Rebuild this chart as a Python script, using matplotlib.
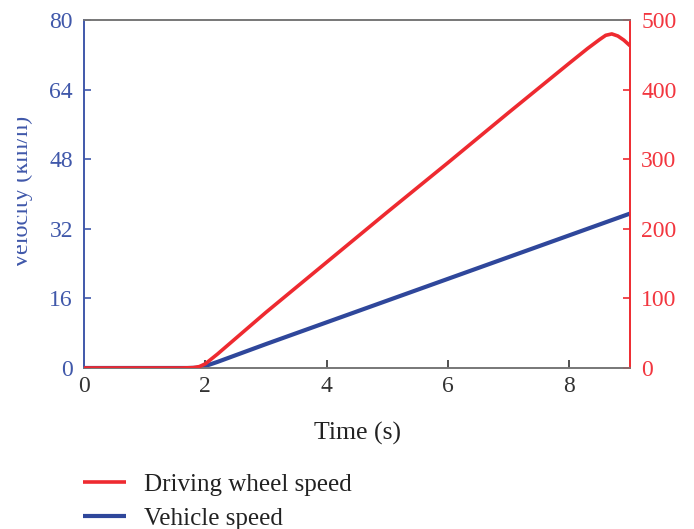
import matplotlib
matplotlib.use("Agg")
import matplotlib.pyplot as plt
from matplotlib.patches import Rectangle

# ---- data ----
time_red = [0, 1.0, 1.6, 1.8, 1.9, 2.0, 2.2, 3, 4, 5, 6, 7, 8, 8.3, 8.5, 8.6, 8.7, 8.8, 8.9, 9.0]
driving_wheel_speed = [0, 0, 0, 0.5, 2, 6, 20, 80, 152, 224, 295, 367, 438, 459, 472, 478, 480, 477, 471, 463]

time_blue = [0, 1.0, 1.7, 1.85, 1.95, 2.0, 2.2, 3, 4, 5, 6, 7, 8, 9.0]
vehicle_speed = [0, 0, 0, 0.05, 0.25, 0.45, 1.4, 5.5, 10.5, 15.5, 20.5, 25.5, 30.5, 35.5]

x_ticks = [0, 2, 4, 6, 8]
left_ticks = [0, 16, 32, 48, 64, 80]
right_ticks = [0, 100, 200, 300, 400, 500]

RED = "#EE2A30"
BLUE = "#2F479B"
BLUE_TXT = "#4058AA"
RED_TXT = "#F2363F"
GRAY = "#777777"

plt.rcParams['font.family'] = ['Liberation Serif', 'DejaVu Serif']

fig = plt.figure(figsize=(6.94, 5.29), dpi=100)
ax = fig.add_axes([84/694, 1-368/529, (630-84)/694, (368-20)/529])
ax2 = ax.twinx()

lb, = ax.plot(time_blue, vehicle_speed, color=BLUE, lw=3.0, solid_capstyle='butt', zorder=2)
lr, = ax2.plot(time_red, driving_wheel_speed, color=RED, lw=2.6, solid_capstyle='butt', zorder=3)

ax.set_xlim(0, 9)
ax.set_ylim(0, 80)
ax2.set_ylim(0, 500)
ax.set_xticks(x_ticks)
ax.set_yticks(left_ticks)
ax2.set_yticks(right_ticks)

for a in (ax, ax2):
    a.spines['top'].set_color(GRAY)
    a.spines['bottom'].set_color(GRAY)
    a.spines['left'].set_color(BLUE_TXT)
    a.spines['right'].set_color(RED)
    for s in a.spines.values():
        s.set_linewidth(1.2)

ax.tick_params(axis='x', direction='in', length=6, width=1.2, color='#333333',
               labelsize=17, labelcolor='#333333', pad=6)
ax.tick_params(axis='y', direction='in', length=5, width=1.2, color=BLUE_TXT,
               labelsize=17, labelcolor=BLUE_TXT, pad=8)
ax2.tick_params(axis='y', direction='in', length=5, width=1.2, color=RED,
                labelsize=17, labelcolor=RED_TXT, pad=8)

ax.set_xlabel("Time (s)", fontsize=18.5, color='#222222', labelpad=18)

fig.text(33/694, 1-192/529, "Velocity (km/h)", rotation=90, ha='right', va='center',
         fontsize=17.5, color=BLUE_TXT)
fig.add_artist(Rectangle((0, 0), 17/694, 1, transform=fig.transFigure,
                         facecolor='white', edgecolor='none', zorder=10))

fig.legend([lr, lb], ["Driving wheel speed", "Vehicle speed"], loc='upper left',
           bbox_to_anchor=(83/694, 1-473/529), frameon=False, fontsize=18,
           handlelength=1.7, handletextpad=0.72, labelspacing=0.47,
           borderpad=0, borderaxespad=0, labelcolor='#222222')

fig.savefig("out.png", dpi=100)
